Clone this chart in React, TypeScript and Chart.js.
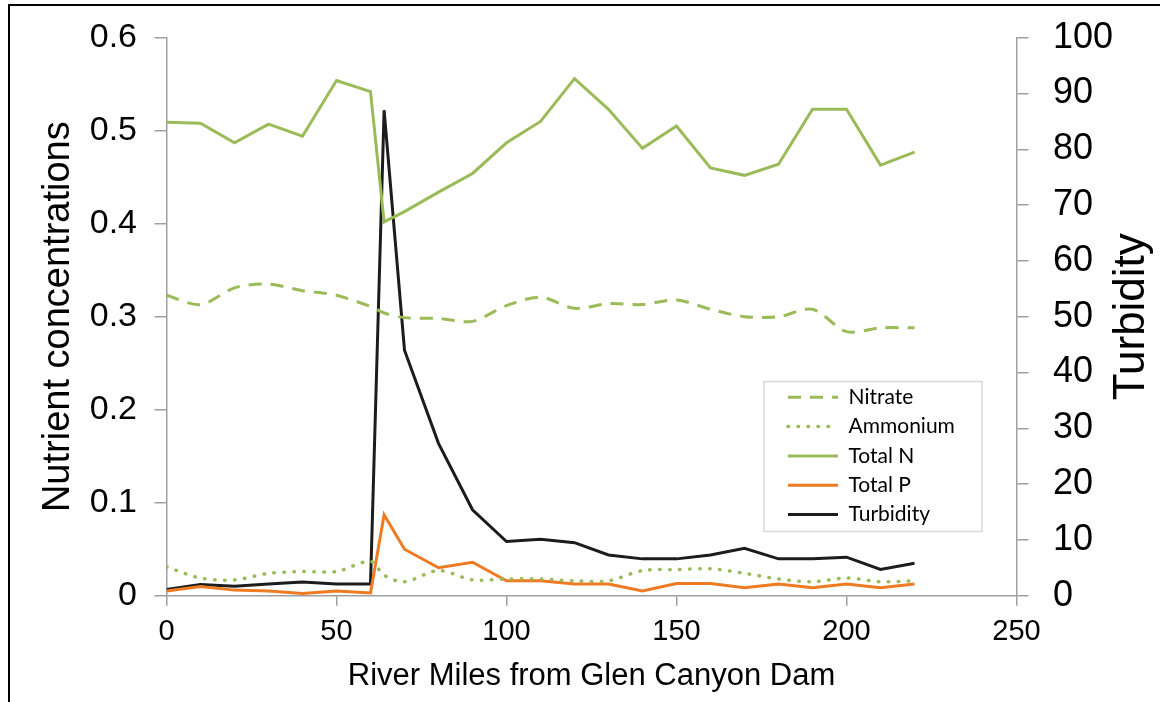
import React, { useEffect, useRef } from 'react';
import { Chart, registerables } from 'chart.js';

Chart.register(...registerables);

// ---------------- data ----------------
const riverMiles = [0, 10, 20, 30, 40, 50, 60, 64, 70, 80, 90, 100, 110, 120, 130, 140, 150, 160, 170, 180, 190, 200, 210, 220];
const nitrate = [0.323, 0.313, 0.331, 0.335, 0.328, 0.323, 0.311, 0.304, 0.299, 0.298, 0.295, 0.312, 0.321, 0.309, 0.314, 0.313, 0.318, 0.308, 0.3, 0.3, 0.308, 0.284, 0.288, 0.288];
const ammonium = [0.031, 0.019, 0.017, 0.024, 0.026, 0.026, 0.037, 0.022, 0.015, 0.027, 0.017, 0.018, 0.018, 0.016, 0.016, 0.027, 0.028, 0.029, 0.024, 0.018, 0.015, 0.019, 0.015, 0.016];
const totalN = [0.509, 0.508, 0.487, 0.507, 0.494, 0.554, 0.542, 0.402, 0.413, 0.434, 0.454, 0.487, 0.51, 0.556, 0.523, 0.481, 0.505, 0.46, 0.452, 0.464, 0.523, 0.523, 0.463, 0.477];
const totalP = [0.005, 0.01, 0.006, 0.005, 0.0025, 0.005, 0.003, 0.087, 0.05, 0.03, 0.036, 0.016, 0.016, 0.0125, 0.0125, 0.005, 0.013, 0.013, 0.0086, 0.0125, 0.0086, 0.0125, 0.0086, 0.0125];
const turbidity = [1.1, 2.0, 1.7, 2.1, 2.45, 2.1, 2.1, 87.0, 44.0, 27.3, 15.4, 9.7, 10.1, 9.5, 7.3, 6.6, 6.6, 7.3, 8.5, 6.6, 6.6, 6.9, 4.7, 5.8];

const seriesNames = ['Nitrate', 'Ammonium', 'Total N', 'Total P', 'Turbidity'];
const xRange = { min: 0, max: 250, step: 50 };
const leftRange = { min: 0, max: 0.6, step: 0.1 };
const rightRange = { min: 0, max: 100, step: 10 };
const xTitle = 'River Miles from Glen Canyon Dam';
const leftTitle = 'Nutrient concentrations';
const rightTitle = 'Turbidity';

// ---------------- styles ----------------
const FONT = "'Liberation Sans', Arial, sans-serif";
const GREEN = '#9BBB59';
const ORANGE = '#EE7A22';
const BLACK = '#1c1c1c';
const AXIS = '#a0a0a0';

const W = 1160;
const H = 702;
const AREA = { left: 166.5, right: 1016.5, top: 37.7, bottom: 595.7 };

const pts = (vals: number[]) => riverMiles.map((m, i) => ({ x: m, y: vals[i] }));

const decorPlugin = {
  id: 'decor',
  beforeDraw(chart: any) {
    const ctx = chart.ctx;
    // legend frame
    ctx.save();
    ctx.fillStyle = '#ffffff';
    ctx.fillRect(764, 381.5, 218, 150);
    ctx.strokeStyle = '#d9d9d9';
    ctx.lineWidth = 1.5;
    ctx.strokeRect(764, 381.5, 218, 150);
    ctx.restore();
    const lg = chart.legend;
    if (lg) {
      lg.left = 779.7;
      lg.top = 378.5;
      lg.right = 981;
      lg.bottom = 580;
      lg.width = lg.right - lg.left;
      lg.height = lg.bottom - lg.top;
    }
  },
  afterDraw(chart: any) {
    const ctx = chart.ctx;
    const ca = chart.chartArea;
    ctx.save();
    ctx.translate(1132, (ca.top + ca.bottom) / 2);
    ctx.rotate(-Math.PI / 2);
    ctx.font = `44px ${FONT}`;
    ctx.fillStyle = '#000';
    ctx.textAlign = 'center';
    ctx.textBaseline = 'middle';
    ctx.fillText(rightTitle, 0, 0);
    ctx.restore();
  },
};

const noPad = (s: any) => {
  s.paddingTop = 0;
  s.paddingBottom = 0;
  s.paddingLeft = 0;
  s.paddingRight = 0;
};

export default function App() {
  const ref = useRef<HTMLCanvasElement | null>(null);

  useEffect(() => {
    if (!ref.current) return;
    Chart.defaults.font.family = FONT;
    const chart = new Chart(ref.current, {
      type: 'line',
      data: {
        datasets: [
          {
            label: seriesNames[0],
            data: pts(nitrate),
            borderColor: GREEN,
            backgroundColor: GREEN,
            borderWidth: 3,
            borderDash: [13, 9],
            tension: 0.3,
            pointRadius: 0,
            yAxisID: 'y',
          },
          {
            label: seriesNames[1],
            data: pts(ammonium),
            borderColor: GREEN,
            backgroundColor: GREEN,
            borderWidth: 3.5,
            borderDash: [0.5, 9.5],
            borderCapStyle: 'round',
            tension: 0.3,
            pointRadius: 0,
            yAxisID: 'y',
          },
          {
            label: seriesNames[2],
            data: pts(totalN),
            borderColor: GREEN,
            backgroundColor: GREEN,
            borderWidth: 3,
            tension: 0,
            pointRadius: 0,
            yAxisID: 'y',
          },
          {
            label: seriesNames[3],
            data: pts(totalP),
            borderColor: ORANGE,
            backgroundColor: ORANGE,
            borderWidth: 3,
            tension: 0,
            pointRadius: 0,
            yAxisID: 'y',
          },
          {
            label: seriesNames[4],
            data: pts(turbidity),
            borderColor: BLACK,
            backgroundColor: BLACK,
            borderWidth: 3,
            tension: 0,
            pointRadius: 0,
            yAxisID: 'y1',
          },
        ],
      },
      options: {
        responsive: false,
        animation: false,
        layout: { padding: { top: AREA.top, left: 0, right: 0, bottom: 0 } },
        plugins: {
          tooltip: { enabled: false },
          legend: {
            display: true,
            position: 'chartArea',
            align: 'start',
            labels: {
              usePointStyle: true,
              pointStyle: 'line',
              pointStyleWidth: 50,
              padding: 8.3,
              color: '#000',
              font: { family: "Lato, 'Liberation Sans', sans-serif", size: 21 },
              generateLabels: (c: any) =>
                c.data.datasets.map((ds: any, i: number) => ({
                  text: ds.label,
                  fillStyle: ds.borderColor,
                  strokeStyle: ds.borderColor,
                  fontColor: '#000',
                  lineWidth: ds.borderWidth,
                  lineDash: ds.borderDash || [],
                  lineDashOffset: 0,
                  lineCap: ds.borderCapStyle || 'butt',
                  lineJoin: 'miter',
                  pointStyle: 'line',
                  rotation: 0,
                  hidden: false,
                  datasetIndex: i,
                })),
            },
          },
        },
        scales: {
          x: {
            type: 'linear',
            position: 'bottom',
            min: xRange.min,
            max: xRange.max,
            afterFit: (s: any) => {
              s.height = H - AREA.bottom;
              noPad(s);
            },
            ticks: { stepSize: xRange.step, color: '#000', font: { size: 29 }, padding: 8.9, maxRotation: 0 },
            grid: { drawOnChartArea: false, drawTicks: true, tickLength: 10, color: AXIS, lineWidth: 1.5 },
            border: { color: AXIS, width: 1.5 },
            title: {
              display: true,
              text: xTitle,
              color: '#000',
              font: { size: 31 },
              padding: { top: 0, bottom: 7.4 },
            },
          },
          y: {
            type: 'linear',
            position: 'left',
            min: leftRange.min,
            max: leftRange.max,
            afterFit: (s: any) => {
              s.width = AREA.left;
              noPad(s);
            },
            ticks: { stepSize: leftRange.step, color: '#000', font: { size: 34 }, padding: 17.5 },
            grid: { drawOnChartArea: false, drawTicks: true, tickLength: 12, color: AXIS, lineWidth: 1.5 },
            border: { color: AXIS, width: 1.5 },
            title: {
              display: true,
              text: leftTitle,
              color: '#000',
              font: { size: 38 },
              padding: { top: 36, bottom: 0 },
            },
          },
          y1: {
            type: 'linear',
            position: 'right',
            min: rightRange.min,
            max: rightRange.max,
            afterFit: (s: any) => {
              s.width = W - AREA.right;
              noPad(s);
            },
            ticks: { stepSize: rightRange.step, color: '#000', font: { size: 36 }, padding: 24.5 },
            grid: { drawOnChartArea: false, drawTicks: true, tickLength: 12, color: AXIS, lineWidth: 1.5 },
            border: { color: AXIS, width: 1.5 },
          },
        },
      } as any,
      plugins: [decorPlugin],
    });
    return () => chart.destroy();
  }, []);

  return (
    <div style={{ position: 'fixed', left: 0, top: 0, width: W, height: H, overflow: 'hidden', background: '#fff' }}>
      <div
        style={{
          position: 'absolute',
          left: 7.5,
          top: 3.5,
          width: W + 50,
          height: H + 50,
          borderLeft: '2.5px solid #000',
          borderTop: '2.5px solid #000',
        }}
      />
      <canvas ref={ref} width={W} height={H} style={{ position: 'absolute', left: 0, top: 0, width: W, height: H }} />
    </div>
  );
}
